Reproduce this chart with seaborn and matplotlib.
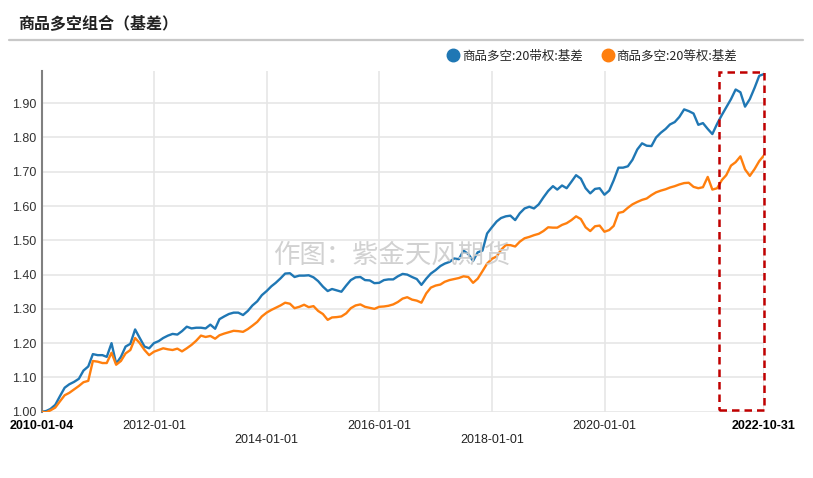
import matplotlib
matplotlib.use("Agg")
import matplotlib.pyplot as plt
import matplotlib.dates as mdates
from matplotlib.lines import Line2D
from matplotlib.patches import Rectangle
import seaborn as sns
import pandas as pd
import numpy as np

# ---------------- data ----------------
title = "商品多空组合（基差）"
series_names = ["商品多空:20带权:基差", "商品多空:20等权:基差"]
watermark = "作图：紫金天风期货"

start_date = "2010-01-04"
end_date = "2022-10-31"
# month-end observations (Jan 2010 .. Oct 2022), first value is the start date
blue_values = [1.000,
    1.002, 1.008, 1.020, 1.045, 1.070, 1.080, 1.087, 1.096, 1.120, 1.132, 1.168, 1.165,
    1.165, 1.160, 1.200, 1.140, 1.160, 1.190, 1.198, 1.240, 1.215, 1.190, 1.185, 1.200,
    1.206, 1.215, 1.222, 1.227, 1.225, 1.235, 1.248, 1.243, 1.245, 1.245, 1.243, 1.254,
    1.242, 1.270, 1.278, 1.285, 1.289, 1.289, 1.282, 1.294, 1.310, 1.322, 1.340, 1.352,
    1.366, 1.376, 1.389, 1.403, 1.404, 1.393, 1.397, 1.397, 1.398, 1.392, 1.381, 1.365,
    1.352, 1.358, 1.354, 1.350, 1.368, 1.384, 1.392, 1.393, 1.384, 1.383, 1.375, 1.376,
    1.384, 1.386, 1.386, 1.395, 1.402, 1.400, 1.393, 1.387, 1.370, 1.388, 1.403, 1.413,
    1.425, 1.432, 1.437, 1.447, 1.445, 1.470, 1.460, 1.440, 1.465, 1.470, 1.520, 1.538,
    1.555, 1.565, 1.570, 1.572, 1.559, 1.579, 1.593, 1.598, 1.593, 1.605, 1.625, 1.644,
    1.658, 1.648, 1.660, 1.652, 1.671, 1.690, 1.680, 1.652, 1.637, 1.650, 1.652, 1.633,
    1.645, 1.675, 1.712, 1.712, 1.716, 1.735, 1.765, 1.783, 1.776, 1.775, 1.800, 1.814,
    1.825, 1.838, 1.845, 1.860, 1.882, 1.877, 1.870, 1.837, 1.842, 1.825, 1.810, 1.840,
    1.866, 1.888, 1.912, 1.940, 1.932, 1.890, 1.912, 1.945, 1.980, 1.985]
orange_values = [1.000,
    0.998, 1.004, 1.012, 1.030, 1.048, 1.055, 1.065, 1.075, 1.086, 1.090, 1.148, 1.146,
    1.142, 1.142, 1.172, 1.137, 1.148, 1.170, 1.180, 1.215, 1.200, 1.180, 1.165, 1.175,
    1.180, 1.185, 1.182, 1.180, 1.184, 1.176, 1.185, 1.195, 1.207, 1.222, 1.218, 1.221,
    1.213, 1.223, 1.228, 1.232, 1.236, 1.235, 1.233, 1.241, 1.251, 1.262, 1.278, 1.289,
    1.297, 1.303, 1.310, 1.318, 1.315, 1.302, 1.306, 1.312, 1.305, 1.308, 1.294, 1.285,
    1.268, 1.275, 1.276, 1.278, 1.287, 1.302, 1.310, 1.313, 1.306, 1.303, 1.300, 1.306,
    1.307, 1.309, 1.313, 1.320, 1.330, 1.334, 1.327, 1.324, 1.318, 1.345, 1.362, 1.368,
    1.371, 1.379, 1.384, 1.387, 1.390, 1.395, 1.393, 1.376, 1.388, 1.410, 1.432, 1.446,
    1.453, 1.472, 1.486, 1.486, 1.482, 1.496, 1.506, 1.510, 1.515, 1.519, 1.527, 1.538,
    1.537, 1.537, 1.545, 1.550, 1.559, 1.570, 1.562, 1.538, 1.527, 1.541, 1.543, 1.525,
    1.530, 1.542, 1.580, 1.583, 1.595, 1.605, 1.612, 1.618, 1.622, 1.632, 1.640, 1.645,
    1.649, 1.654, 1.658, 1.663, 1.667, 1.668, 1.656, 1.652, 1.655, 1.685, 1.648, 1.652,
    1.676, 1.690, 1.718, 1.728, 1.745, 1.707, 1.688, 1.708, 1.731, 1.748]

x_tick_dates = ["2010-01-04", "2012-01-01", "2014-01-01", "2016-01-01",
                "2018-01-01", "2020-01-01", "2022-10-31"]
x_tick_row = [0, 0, 1, 0, 1, 0, 0]
y_ticks = [1.00, 1.10, 1.20, 1.30, 1.40, 1.50, 1.60, 1.70, 1.80, 1.90]
highlight_start = "2022-01-12"

colors = ["#1f77b4", "#ff7f0e"]

# ---------------- frame ----------------
dates = pd.DatetimeIndex([pd.Timestamp(start_date)]).append(
    pd.date_range("2010-01-31", end_date, freq="ME"))
df = pd.DataFrame({"date": list(dates) * 2,
                   "value": blue_values + orange_values,
                   "series": [series_names[0]] * len(dates) + [series_names[1]] * len(dates)})

sns.set_theme(style="white")
plt.rcParams["font.family"] = ["Liberation Sans", "Noto Sans CJK SC", "DejaVu Sans"]

fig = plt.figure(figsize=(8.13, 4.78), dpi=100)
ax = fig.add_axes([42 / 813, 1 - 411.7 / 478, (764 - 42) / 813, (411.7 - 71) / 478])

sns.lineplot(data=df, x="date", y="value", hue="series", palette=colors,
             linewidth=1.7, ax=ax, legend=False, zorder=3)

ax.set_xlim(pd.Timestamp(start_date), pd.Timestamp(end_date))
ax.set_ylim(1.0, 1.994)
ax.set_yticks(y_ticks)
ax.set_yticklabels([f"{v:.2f}" for v in y_ticks], fontsize=9, color="#333333")

xt = [pd.Timestamp(d) for d in x_tick_dates]
ax.set_xticks(xt)
labels = [("\n" + d) if r == 1 else d for d, r in zip(x_tick_dates, x_tick_row)]
ax.set_xticklabels(labels, fontsize=9, color="#222222")
for i, t in enumerate(ax.get_xticklabels()):
    if i == 0 or i == len(x_tick_dates) - 1:
        t.set_fontweight("bold")
        t.set_color("#000000")
ax.tick_params(axis="both", length=0, pad=4)
ax.tick_params(axis="x", pad=6)

ax.set_xlabel("")
ax.set_ylabel("")
ax.grid(True, color="#e6e6e6", linewidth=1.2, zorder=0)
ax.set_axisbelow(True)
for s in ["top", "right", "bottom"]:
    ax.spines[s].set_visible(False)
ax.spines["left"].set_color("#808080")
ax.spines["left"].set_linewidth(1.5)

# highlight box
x0 = mdates.date2num(pd.Timestamp(highlight_start))
x1 = mdates.date2num(pd.Timestamp(end_date))
rect = Rectangle((x0, 1.006), x1 - x0, 1.99 - 1.006, fill=False,
                 edgecolor="#c00000", linewidth=1.8, linestyle=(0, (3, 2)),
                 clip_on=False, zorder=5)
ax.add_patch(rect)

# watermark
fig.text(0.482, 1 - 255 / 478, watermark, fontsize=19, color="#cccccc",
         ha="center", va="center", family=["Noto Sans CJK SC"], zorder=1, alpha=0.9)

# title and separator
fig.text(18 / 813, 1 - 24 / 478, title, fontsize=11.5, fontweight="bold",
         color="#222222", ha="left", va="center", family=["Noto Sans CJK SC"])
fig.add_artist(Line2D([9 / 813, 803 / 813], [1 - 40 / 478, 1 - 40 / 478],
                      color="#c8c8c8", linewidth=1.6, transform=fig.transFigure))

# legend
handles = [Line2D([], [], marker="o", linestyle="", color=c, markersize=9) for c in colors]
fig.legend(handles, series_names, loc="center left",
           bbox_to_anchor=(448 / 813, 1 - 56 / 478), ncol=2, frameon=False,
           handlelength=0.8, handletextpad=0.3, columnspacing=1.6,
           borderpad=0, borderaxespad=0, prop={"family": ["Noto Sans CJK SC"], "size": 9})

fig.savefig("out.png", dpi=100)
